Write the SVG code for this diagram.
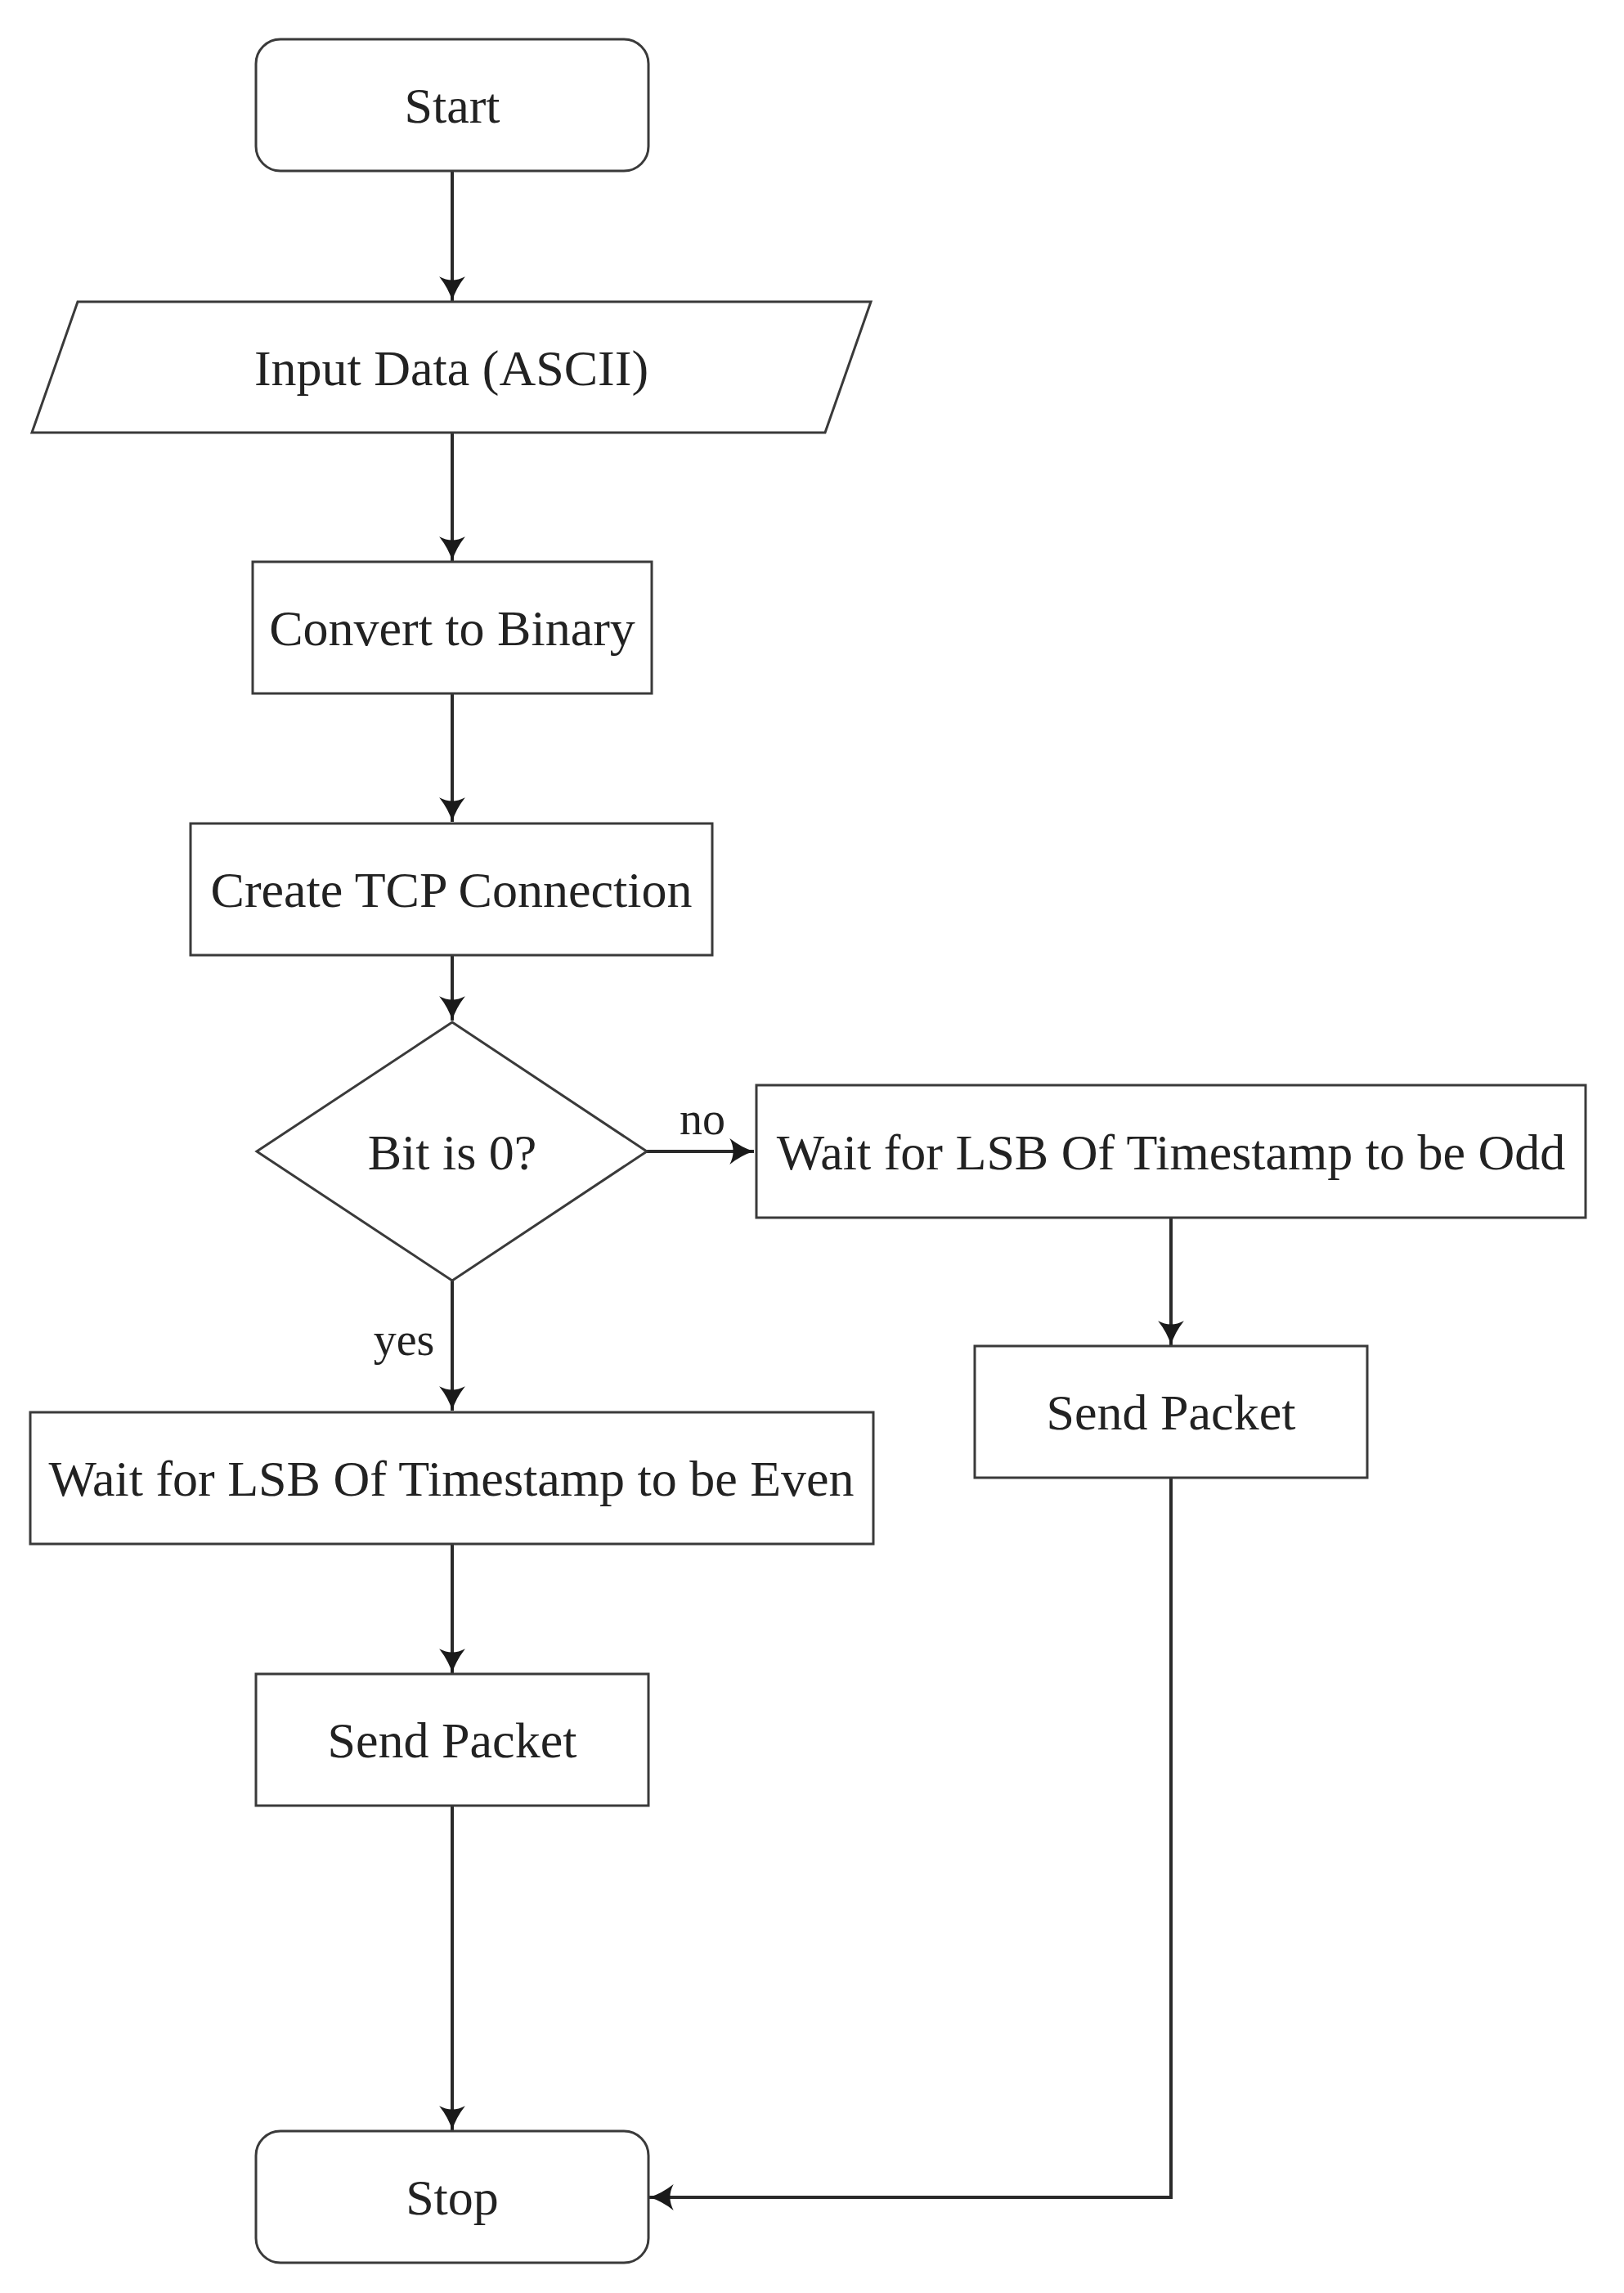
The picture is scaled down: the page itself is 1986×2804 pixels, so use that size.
<svg xmlns="http://www.w3.org/2000/svg" width="1986" height="2804" viewBox="0 0 1986 2804">
<style>
.box{fill:#fff;stroke:#3a3a3a;stroke-width:3}
.lbl{font-family:"Liberation Serif",serif;font-size:62px;fill:#222;text-anchor:middle}
.edge{fill:none;stroke:#2a2a2a;stroke-width:4}
.elbl{font-family:"Liberation Serif",serif;font-size:56px;fill:#222;text-anchor:middle}
</style>
<defs>
<marker id="ah" markerUnits="userSpaceOnUse" markerWidth="36" markerHeight="36" viewBox="-30 -17 32 34" refX="0" refY="0" orient="auto">
<path d="M0,0 Q-14,4 -28,15 Q-20,0 -28,-15 Q-14,-4 0,0 Z" fill="#1a1a1a"/>
</marker>
</defs>
<rect width="1986" height="2804" fill="#fff"/>
<g id="connectors">
<line class="edge" x1="553" y1="209" x2="553" y2="368" marker-end="url(#ah)"/>
<line class="edge" x1="553" y1="529" x2="553" y2="686" marker-end="url(#ah)"/>
<line class="edge" x1="553" y1="848" x2="553" y2="1005" marker-end="url(#ah)"/>
<line class="edge" x1="553" y1="1168" x2="553" y2="1248" marker-end="url(#ah)"/>
<line class="edge" x1="791" y1="1408" x2="922" y2="1408" marker-end="url(#ah)"/>
<text class="elbl" x="859" y="1387">no</text>
<line class="edge" x1="553" y1="1566" x2="553" y2="1725" marker-end="url(#ah)"/>
<text class="elbl" x="494" y="1657">yes</text>
<line class="edge" x1="553" y1="1888" x2="553" y2="2046" marker-end="url(#ah)"/>
<line class="edge" x1="553" y1="2208" x2="553" y2="2605" marker-end="url(#ah)"/>
<line class="edge" x1="1432" y1="1489" x2="1432" y2="1645" marker-end="url(#ah)"/>
<polyline class="edge" points="1432,1807 1432,2687 794,2687" marker-end="url(#ah)"/>
</g>
<g id="start">
<rect class="box" x="313" y="48" width="480" height="161" rx="30" ry="30"/>
<text class="lbl" x="553" y="150">Start</text>
</g>
<g id="input">
<polygon class="box" points="95,369 1065,369 1009,529 39,529"/>
<text class="lbl" x="552" y="471">Input Data (ASCII)</text>
</g>
<g id="convert">
<rect class="box" x="309" y="687" width="488" height="161"/>
<text class="lbl" x="553" y="789">Convert to Binary</text>
</g>
<g id="tcp">
<rect class="box" x="233" y="1007" width="638" height="161"/>
<text class="lbl" x="552" y="1109">Create TCP Connection</text>
</g>
<g id="decision">
<polygon class="box" points="553,1250 791,1408 553,1566 314,1408"/>
<text class="lbl" x="553" y="1430">Bit is 0?</text>
</g>
<g id="wait_odd">
<rect class="box" x="925" y="1327" width="1014" height="162"/>
<text class="lbl" x="1432" y="1430">Wait for LSB Of Timestamp to be Odd</text>
</g>
<g id="send_right">
<rect class="box" x="1192" y="1646" width="480" height="161"/>
<text class="lbl" x="1432" y="1748">Send Packet</text>
</g>
<g id="wait_even">
<rect class="box" x="37" y="1727" width="1031" height="161"/>
<text class="lbl" x="552" y="1829">Wait for LSB Of Timestamp to be Even</text>
</g>
<g id="send_left">
<rect class="box" x="313" y="2047" width="480" height="161"/>
<text class="lbl" x="553" y="2149">Send Packet</text>
</g>
<g id="stop">
<rect class="box" x="313" y="2606" width="480" height="161" rx="30" ry="30"/>
<text class="lbl" x="553" y="2708">Stop</text>
</g>
</svg>
